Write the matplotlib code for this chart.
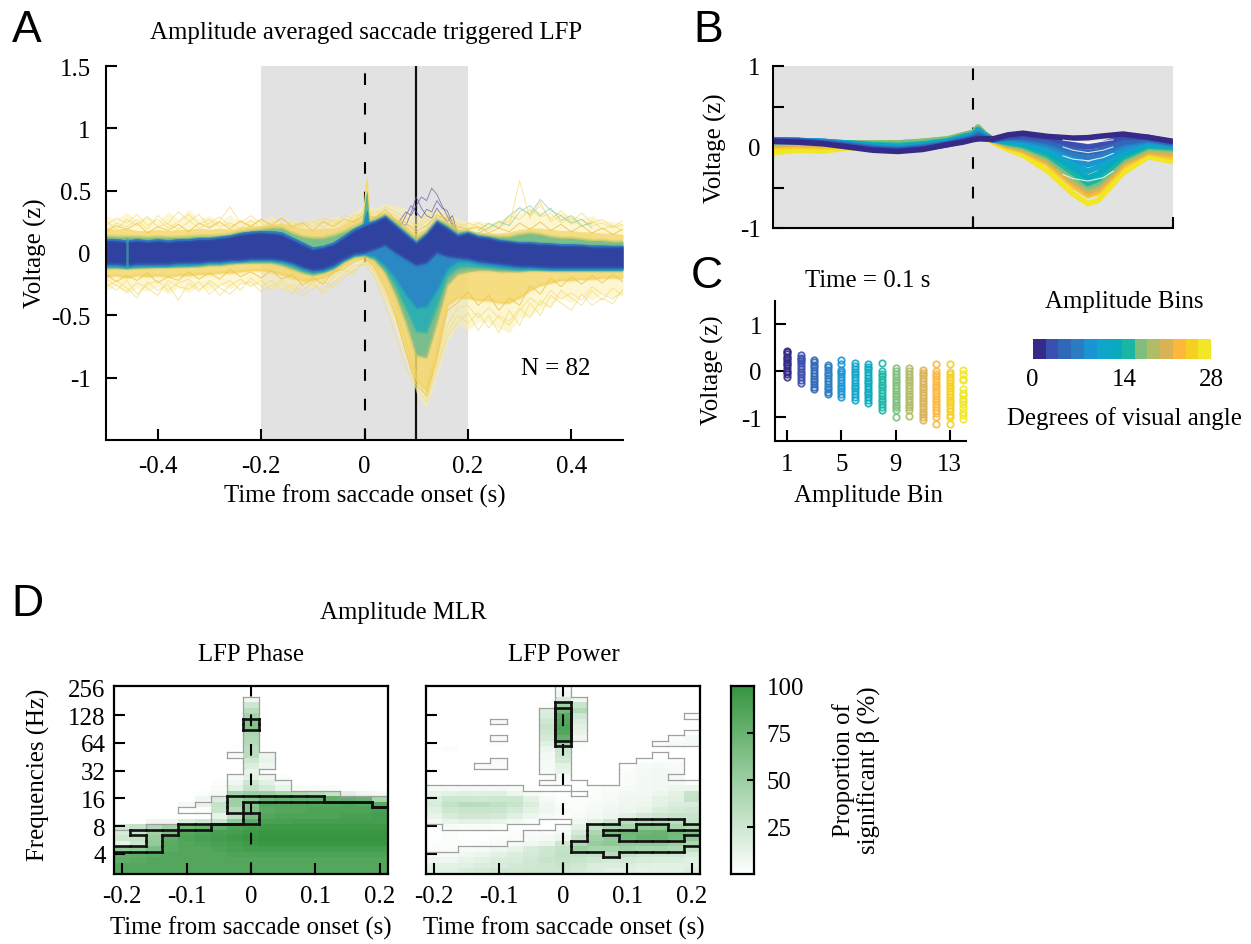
#!/usr/bin/env python3
"""Saccade triggered LFP figure: panels A-D, values read off the published picture."""

import matplotlib
matplotlib.use("Agg")
import matplotlib.pyplot as plt
import numpy as np
from matplotlib.collections import LineCollection
from matplotlib.colors import LinearSegmentedColormap

plt.rcParams["font.family"] = ["Liberation Serif", "DejaVu Serif"]
plt.rcParams["axes.unicode_minus"] = False

W, H = 1251, 945
FS = 17.9

BIN_COLORS = ["#352A87", "#3B4FB0", "#3068B8", "#2B7CC0", "#1A95D3", "#10A6C9", "#09A9BF",
              "#1BB5A5", "#7FBF7B", "#B2BC67", "#DAB256", "#FEB73B", "#F5CF22", "#F2E726"]

# ---------------------------------------------------------------------------
# Panel A: envelopes of the single traces, -0.5 to 0.5 s
# ---------------------------------------------------------------------------
T_A = [-.50, -.48, -.46, -.44, -.42, -.40, -.38, -.36, -.34, -.32, -.30, -.28, -.26, -.24, -.22, -.20, -.18,
       -.16, -.14, -.12, -.10, -.08, -.06, -.04, -.02, 0, .02, .04, .06, .08, .10, .12, .14, .16, .18, .20,
       .22, .24, .26, .28, .30, .32, .34, .36, .38, .40, .42, .44, .46, .48, .50]

DARK_U = [.10, .10, .09, .10, .09, .10, .09, .10, .10, .11, .11, .12, .13, .15, .16, .165, .16, .15, .11, .07, .03,
          .045, .07, .125, .18, .22, .25, .29, .22, .15, .08, .15, .25, .20, .14, .16, .13, .12, .10, .09, .08, .08,
          .07, .07, .06, .06, .06, .05, .05, .05, .05]
DARK_L = [-.09, -.09, -.10, -.09, -.09, -.09, -.09, -.08, -.08, -.08, -.07, -.07, -.06, -.06, -.05, -.05, -.05,
          -.06, -.08, -.115, -.14, -.13, -.10, -.05, -.01, 0, .03, .06, 0, -.05, -.10, -.08, 0, -.03, -.04, -.05,
          -.07, -.08, -.09, -.10, -.11, -.11, -.115, -.12, -.12, -.12, -.12, -.12, -.12, -.12, -.12]
BLUE_U = [.115, .115, .105, .115, .105, .115, .105, .115, .115, .125, .125, .135, .145, .165, .175, .18, .18, .17,
          .13, .09, .05, .06, .09, .145, .20, .24, .26, .30, .23, .16, .09, .16, .26, .21, .15, .17, .14, .13, .11,
          .10, .09, .09, .085, .08, .075, .075, .07, .065, .065, .06, .06]
BLUE_L = [-.105, -.105, -.115, -.105, -.105, -.105, -.105, -.095, -.095, -.09, -.08, -.08, -.07, -.07, -.06, -.06,
          -.06, -.07, -.095, -.13, -.155, -.145, -.115, -.06, -.02, -.01, -.03, -.10, -.20, -.33, -.44, -.43, -.30,
          -.13, -.07, -.07, -.09, -.10, -.11, -.12, -.125, -.125, -.13, -.135, -.135, -.135, -.135, -.135, -.135,
          -.135, -.135]
TEAL_L = [-.115, -.115, -.12, -.115, -.11, -.11, -.11, -.105, -.105, -.10, -.09, -.09, -.08, -.075, -.07, -.07, -.07,
          -.085, -.11, -.145, -.165, -.15, -.12, -.065, -.025, -.015, -.045, -.13, -.27, -.45, -.63, -.64, -.43, -.19,
          -.12, -.11, -.115, -.12, -.13, -.135, -.14, -.135, -.135, -.14, -.14, -.14, -.14, -.14, -.14, -.14, -.14]
GREEN_U = [.135, .13, .13, .13, .125, .13, .125, .125, .13, .135, .135, .14, .15, .17, .18, .19, .20, .20, .16, .13,
           .12, .12, .14, .17, .21, .25, .27, .31, .25, .18, .11, .17, .27, .23, .17, .18, .15, .14, .13, .13, .15,
           .16, .15, .13, .12, .12, .11, .10, .10, .09, .09]
GREEN_L = [-.125, -.12, -.125, -.12, -.12, -.115, -.115, -.115, -.11, -.11, -.10, -.10, -.09, -.08, -.08, -.08, -.08,
           -.10, -.13, -.16, -.18, -.16, -.13, -.07, -.03, -.02, -.06, -.16, -.34, -.56, -.82, -.84, -.56, -.26, -.17,
           -.15, -.14, -.14, -.15, -.15, -.15, -.14, -.14, -.14, -.14, -.14, -.14, -.14, -.14, -.14, -.14]
GOLD_U = [.20, .19, .20, .18, .18, .19, .18, .19, .19, .20, .19, .20, .19, .21, .22, .22, .23, .24, .22, .20, .19,
          .20, .20, .23, .27, .30, .30, .33, .28, .22, .16, .20, .28, .26, .20, .17, .17, .16, .16, .17, .19, .20,
          .20, .19, .18, .18, .17, .17, .16, .16, .15]
GOLD_L = [-.19, -.18, -.20, -.18, -.19, -.18, -.19, -.18, -.18, -.17, -.17, -.16, -.16, -.15, -.14, -.14, -.15, -.17,
          -.20, -.22, -.22, -.20, -.16, -.10, -.05, -.03, -.10, -.25, -.45, -.75, -1.03, -1.10, -.80, -.42, -.36, -.36,
          -.38, -.38, -.40, -.40, -.36, -.30, -.26, -.24, -.22, -.22, -.21, -.21, -.20, -.20, -.20]
PALE_U = [.30, .27, .33, .26, .30, .25, .33, .27, .35, .27, .30, .25, .31, .24, .28, .26, .30, .24, .27, .23, .28,
          .24, .30, .27, .34, .38, .36, .40, .38, .36, .30, .34, .36, .33, .28, .25, .26, .24, .26, .30, .32, .36,
          .34, .30, .32, .30, .28, .30, .26, .25, .24]
PALE_L = [-.30, -.26, -.33, -.28, -.31, -.27, -.33, -.28, -.32, -.26, -.30, -.25, -.29, -.24, -.26, -.25, -.28, -.28,
          -.30, -.26, -.28, -.25, -.22, -.18, -.12, -.08, -.18, -.38, -.60, -.85, -1.12, -1.24, -.98, -.72, -.58, -.62,
          -.55, -.56, -.60, -.64, -.52, -.50, -.45, -.42, -.35, -.40, -.34, -.38, -.32, -.36, -.33]

# a few traces standing out of the envelopes
WISP_UP_1 = [.22, .28, .24, .31, .22, .27, .20, .25, .31, .23, .27, .21, .24, .20, .26, .21, .24, .28, .22, .25, .21,
             .26, .22, .30, .27, .33, .29, .34, .30, .24, .19, .26, .31, .24, .20, .24, .21, .18, .23, .30, .27, .35,
             .29, .32, .24, .28, .21, .26, .19, .22, .18]
WISP_UP_2 = [.26, .19, .27, .22, .29, .21, .24, .33, .26, .20, .24, .29, .21, .25, .22, .27, .23, .20, .25, .21, .24,
             .28, .25, .22, .31, .29, .34, .30, .26, .20, .23, .21, .29, .27, .22, .19, .24, .20, .26, .22, .58, .28,
             .41, .25, .30, .23, .27, .22, .24, .20, .23]
WISP_UP_3 = [.18, .24, .21, .27, .19, .30, .23, .19, .25, .31, .21, .26, .37, .24, .30, .24, .19, .24, .19, .23, .26,
             .20, .27, .24, .26, .35, .31, .37, .33, .28, .22, .29, .34, .29, .24, .21, .19, .23, .20, .26, .37, .30,
             .38, .27, .34, .25, .32, .24, .27, .21, .26]
WISP_LO_1 = [-.24, -.30, -.22, -.33, -.25, -.22, -.30, -.24, -.21, -.29, -.24, -.34, -.26, -.21, -.27, -.22, -.29,
             -.24, -.33, -.22, -.26, -.30, -.19, -.14, -.16, -.06, -.16, -.34, -.52, -.78, -1.0, -1.16, -.90, -.64,
             -.50, -.56, -.48, -.60, -.50, -.55, -.44, -.52, -.38, -.44, -.30, -.36, -.42, -.30, -.38, -.28, -.34]
WISP_LO_2 = [-.21, -.26, -.31, -.24, -.28, -.34, -.22, -.27, -.29, -.23, -.33, -.26, -.22, -.30, -.20, -.27, -.22,
             -.30, -.25, -.31, -.23, -.33, -.24, -.17, -.10, -.09, -.20, -.41, -.66, -.92, -1.08, -1.20, -.94, -.68,
             -.56, -.48, -.62, -.50, -.64, -.46, -.58, -.40, -.50, -.34, -.40, -.46, -.33, -.42, -.36, -.41, -.29]
WISP_LO_3 = [-.27, -.22, -.28, -.36, -.23, -.30, -.25, -.38, -.24, -.31, -.22, -.28, -.33, -.25, -.23, -.31, -.26,
             -.22, -.28, -.34, -.29, -.22, -.27, -.20, -.13, -.07, -.14, -.30, -.48, -.70, -.96, -1.12, -.86, -.58,
             -.44, -.42, -.52, -.44, -.52, -.58, -.46, -.36, -.42, -.30, -.37, -.32, -.38, -.27, -.33, -.37, -.30]
GOLD_WISP_UP = [.17, .22, .19, .24, .16, .21, .18, .23, .17, .24, .20, .25, .19, .26, .21, .27, .22, .28, .21, .24, .18,
                .25, .21, .27, .25, .31, .28, .35, .27, .24, .17, .22, .30, .28, .21, .19, .21, .16, .20, .17, .24, .19,
                .25, .18, .23, .17, .22, .16, .20, .15, .19]
GOLD_WISP_LO = [-.17, -.23, -.18, -.22, -.16, -.24, -.19, -.22, -.15, -.21, -.16, -.21, -.13, -.19, -.15, -.20, -.14,
                -.21, -.17, -.26, -.20, -.25, -.15, -.13, -.07, -.04, -.12, -.28, -.50, -.80, -1.06, -1.14, -.84, -.46,
                -.40, -.31, -.42, -.34, -.46, -.36, -.42, -.26, -.33, -.20, -.27, -.19, -.25, -.18, -.24, -.17, -.23]

T_PURPLE = [.06, .07, .08, .09, .10, .11, .12, .13, .14, .15, .16, .17, .18]
PURPLE_1 = [.20, .27, .33, .30, .38, .45, .42, .52, .47, .38, .30, .22, .17]
PURPLE_2 = [.18, .22, .30, .38, .33, .28, .35, .33, .42, .36, .34, .24, .14]
PURPLE_3 = [.16, .24, .22, .32, .45, .36, .30, .28, .36, .30, .25, .30, .16]
T_TEAL = [.22, .24, .26, .28, .30, .32, .34, .36, .38, .40, .42, .44]
TEAL_1 = [.18, .24, .20, .30, .36, .31, .43, .34, .30, .24, .27, .20]
TEAL_2 = [.16, .20, .25, .22, .33, .38, .30, .36, .26, .30, .22, .24]

T_SPIKE = [-.006, -.002, .002, .005, .008, .012]
SPIKE_PALE = [.25, .40, .58, .62, .45, .25]
SPIKE_GREEN = [.22, .32, .46, .50, .32, .20]
SPIKE_BLUE = [.20, .25, .32, .35, .25, .18]
T_NOTCH = [-.46, -.46]
V_NOTCH = [-.11, .11]

A_YTICKS = [-1, -.5, 0, .5, 1, 1.5]
A_YLABELS = ["-1", "-0.5", "0", "0.5", "1", "1.5"]
A_XTICKS = [-.4, -.2, 0, .2, .4]
A_XLABELS = ["-0.4", "-0.2", "0", "0.2", "0.4"]

# ---------------------------------------------------------------------------
# Panel B: mean curve per amplitude bin
# ---------------------------------------------------------------------------
T_B = [-.2, -.175, -.15, -.125, -.1, -.075, -.05, -.025, -.01, 0, .005, .012, .02, .035, .05, .075, .1, .115, .125,
       .15, .175, .2]
B1 = [.07, .06, .04, 0, -.04, -.055, -.03, .03, .06, .09, .10, .10, .10, .15, .17, .13, .11, .115, .13, .16, .12, .07]
B2 = [.07, .07, .05, .01, -.03, -.045, -.02, .03, .07, .10, .12, .10, .09, .13, .14, .11, .03, 0, .02, .12, .12, .06]
B3 = [.08, .08, .05, .02, -.02, -.035, -.01, .04, .08, .11, .14, .11, .09, .12, .12, .07, -.03, -.07, -.05, .06, .10, .05]
B4 = [.08, .08, .06, .03, -.01, -.03, 0, .05, .09, .12, .16, .12, .09, .11, .10, .04, -.08, -.14, -.11, .03, .09, .04]
B5 = [.09, .08, .07, .04, 0, -.02, .01, .05, .10, .13, .18, .13, .09, .10, .08, .01, -.14, -.22, -.18, -.02, .07, .03]
B6 = [.09, .08, .07, .04, .01, -.01, .02, .06, .11, .14, .20, .14, .09, .08, .06, -.03, -.20, -.30, -.25, -.05, .05, .02]
B7 = [.08, .08, .07, .05, .02, 0, .03, .07, .12, .15, .21, .14, .09, .07, .04, -.06, -.26, -.38, -.33, -.09, .03, .01]
B8 = [.07, .07, .06, .05, .03, .02, .04, .08, .13, .16, .22, .15, .09, .05, .02, -.10, -.32, -.45, -.40, -.13, .01, -.01]
B9 = [.06, .06, .06, .05, .05, .05, .07, .10, .15, .18, .24, .16, .09, .04, 0, -.13, -.37, -.49, -.45, -.16, -.01, -.03]
B10 = [.05, .06, .05, .05, .05, .05, .07, .10, .15, .18, .25, .16, .09, .03, -.01, -.15, -.40, -.52, -.48, -.18, -.03, -.05]
B11 = [.03, .04, .03, .04, .04, .04, .05, .08, .13, .17, .24, .15, .09, .02, -.03, -.17, -.43, -.55, -.51, -.20, -.05, -.08]
B12 = [.02, .03, .02, .03, .02, .03, .04, .07, .12, .16, .22, .14, .08, .01, -.04, -.19, -.46, -.58, -.54, -.22, -.06, -.11]
B13 = [0, .01, 0, .01, .01, .01, .03, .06, .11, .15, .20, .13, .07, 0, -.05, -.21, -.48, -.60, -.56, -.24, -.07, -.13]
B14 = [-.07, -.04, -.05, -.01, -.02, -.01, .02, .05, .09, .13, .18, .12, .06, -.03, -.10, -.30, -.58, -.70, -.66, -.32, -.12, -.18]
B_CURVES = [B1, B2, B3, B4, B5, B6, B7, B8, B9, B10, B11, B12, B13, B14]

T_SLIT = [.09, .10, .115, .13, .14]
SLIT_1 = [.085, .07, .055, .07, .09]
SLIT_2 = [.0, -.04, -.07, -.04, .0]
SLIT_3 = [-.11, -.15, -.17, -.13, -.08]
SLIT_4 = [-.34, -.39, -.42, -.38, -.30]

# ---------------------------------------------------------------------------
# Panel C: single neuron voltage at 0.1 s
# ---------------------------------------------------------------------------
C1 = [.43, .40, .36, .30, .27, .24, .18, .15, .12, .06, 0, -.03, -.07, -.14]
C2 = [.33, .28, .26, .22, .16, .10, .04, -.02, -.08, -.14, -.20, -.27]
C3 = [.24, .19, .13, .07, .01, -.05, -.11, -.17, -.23, -.29, -.35, -.40]
C4 = [.13, .08, .02, -.04, -.10, -.16, -.22, -.28, -.34, -.40, -.46, -.50]
C5 = [.24, .14, .02, -.02, -.08, -.14, -.20, -.26, -.32, -.38, -.44, -.50, -.56]
C6 = [.17, .10, .04, -.02, -.08, -.14, -.20, -.26, -.32, -.38, -.44, -.50, -.56, -.62]
C7 = [.15, .09, .03, -.03, -.09, -.15, -.21, -.27, -.33, -.39, -.45, -.51, -.57, -.63, -.70]
C8 = [.17, 0, -.06, -.12, -.18, -.24, -.30, -.36, -.42, -.48, -.54, -.60, -.66, -.72, -.78, -.84]
C9 = [.05, -.01, -.07, -.13, -.19, -.25, -.31, -.37, -.43, -.49, -.55, -.61, -.67, -.73, -.79, -.85, -1.0]
C10 = [.05, -.01, -.07, -.13, -.19, -.25, -.31, -.37, -.43, -.49, -.55, -.61, -.67, -.73, -.79, -.85, -.98]
C11 = [.02, -.04, -.10, -.16, -.22, -.28, -.34, -.40, -.46, -.52, -.58, -.64, -.70, -.76, -.82, -.88, -.94, -1.0, -1.05]
C12 = [.15, 0, -.06, -.12, -.18, -.24, -.30, -.36, -.42, -.48, -.54, -.60, -.66, -.72, -.78, -.84, -.90, -1.0, -1.15]
C13 = [.14, -.02, -.08, -.14, -.20, -.26, -.32, -.38, -.44, -.50, -.56, -.62, -.68, -.74, -.80, -.86, -.95, -1.0, -1.15]
C14 = [.02, -.07, -.17, -.20, -.40, -.47, -.53, -.60, -.66, -.72, -.80, -.88, -.95, -1.03]
C_VALUES = [C1, C2, C3, C4, C5, C6, C7, C8, C9, C10, C11, C12, C13, C14]

# ---------------------------------------------------------------------------
# Panel D: proportion of significant beta, rows top (r33) to bottom (r0), 17 time columns
# ---------------------------------------------------------------------------
PHASE_HEAT = [
    [0, 0, 0, 0, 0, 0, 0, 0, 0, 0, 0, 0, 0, 0, 0, 0, 0],
    [0, 0, 0, 0, 0, 0, 0, 0, 0, 0, 0, 0, 0, 0, 0, 0, 0],
    [0, 0, 0, 0, 0, 0, 0, 0, 8, 0, 0, 0, 0, 0, 0, 0, 0],
    [0, 0, 0, 0, 0, 0, 0, 0, 25, 0, 0, 0, 0, 0, 0, 0, 0],
    [0, 0, 0, 0, 0, 0, 0, 0, 35, 0, 0, 0, 0, 0, 0, 0, 0],
    [0, 0, 0, 0, 0, 0, 0, 0, 45, 0, 0, 0, 0, 0, 0, 0, 0],
    [0, 0, 0, 0, 0, 0, 0, 0, 60, 0, 0, 0, 0, 0, 0, 0, 0],
    [0, 0, 0, 0, 0, 0, 0, 0, 62, 0, 0, 0, 0, 0, 0, 0, 0],
    [0, 0, 0, 0, 0, 0, 0, 0, 42, 0, 0, 0, 0, 0, 0, 0, 0],
    [0, 0, 0, 0, 0, 0, 0, 0, 40, 1, 0, 0, 0, 0, 0, 0, 0],
    [0, 0, 0, 0, 0, 0, 0, 1, 38, 1, 0, 0, 0, 0, 0, 0, 0],
    [0, 0, 0, 0, 0, 0, 0, 1, 34, 0, 0, 0, 0, 0, 0, 0, 0],
    [0, 0, 0, 0, 0, 0, 0, 5, 35, 10, 0, 0, 0, 0, 0, 0, 0],
    [0, 0, 0, 0, 0, 0, 0, 1, 25, 12, 0, 0, 0, 0, 0, 0, 0],
    [0, 0, 0, 0, 0, 0, 0, 0, 18, 8, 0, 0, 0, 0, 0, 0, 0],
    [0, 0, 0, 0, 0, 0, 0, 0, 12, 2, 0, 0, 0, 0, 0, 0, 0],
    [0, 0, 0, 0, 0, 0, 0, 5, 14, 8, 2, 0, 0, 0, 0, 0, 0],
    [0, 0, 0, 0, 0, 0, 2, 8, 25, 15, 7, 0, 0, 0, 0, 0, 0],
    [0, 0, 0, 0, 0, 0, 3, 15, 30, 22, 12, 3, 3, 3, 1, 0, 0],
    [0, 0, 0, 0, 0, 2, 6, 45, 50, 50, 45, 42, 38, 30, 15, 8, 6],
    [0, 0, 0, 0, 0, 8, 18, 50, 58, 72, 75, 75, 75, 78, 78, 75, 45],
    [0, 0, 0, 0, 6, 12, 30, 48, 60, 85, 85, 85, 85, 85, 88, 85, 82],
    [0, 0, 0, 0, 0, 2, 28, 38, 62, 82, 85, 85, 88, 88, 88, 88, 90],
    [0, 0, 0, 0, 0, 1, 12, 32, 65, 85, 88, 88, 88, 88, 90, 90, 92],
    [0, 0, 8, 8, 18, 25, 28, 55, 80, 90, 90, 92, 92, 92, 92, 92, 92],
    [25, 30, 40, 48, 72, 75, 80, 88, 92, 95, 95, 95, 95, 95, 95, 95, 95],
    [20, 28, 48, 62, 85, 88, 90, 92, 95, 98, 98, 98, 98, 98, 98, 98, 98],
    [25, 30, 52, 80, 88, 90, 92, 95, 98, 100, 100, 100, 100, 100, 100, 100, 100],
    [12, 25, 55, 82, 85, 88, 90, 92, 95, 98, 98, 98, 98, 98, 98, 98, 98],
    [55, 55, 65, 82, 85, 85, 88, 90, 92, 92, 92, 92, 92, 92, 92, 92, 92],
    [78, 80, 82, 85, 85, 85, 85, 88, 88, 88, 88, 88, 88, 88, 88, 88, 88],
    [80, 82, 85, 85, 85, 85, 85, 85, 85, 85, 85, 85, 85, 85, 85, 85, 85],
    [85, 85, 85, 85, 85, 85, 85, 85, 85, 85, 85, 85, 85, 85, 85, 85, 85],
    [85, 85, 85, 85, 85, 85, 85, 85, 85, 85, 85, 85, 85, 85, 85, 85, 85],
]
POWER_HEAT = [
    [0, 0, 0, 0, 0, 0, 0, 0, 4, 0, 0, 0, 0, 0, 0, 0, 0],
    [0, 0, 0, 0, 0, 0, 0, 0, 8, 0, 0, 0, 0, 0, 0, 0, 0],
    [0, 0, 0, 0, 0, 0, 0, 0, 22, 8, 0, 0, 0, 0, 0, 0, 0],
    [0, 0, 0, 0, 0, 0, 0, 2, 48, 28, 0, 0, 0, 0, 0, 0, 0],
    [0, 0, 0, 0, 0, 0, 0, 18, 70, 38, 0, 0, 0, 0, 0, 0, 0],
    [0, 0, 0, 0, 0, 0, 0, 20, 82, 24, 0, 0, 0, 0, 0, 0, 2],
    [0, 0, 0, 1, 4, 0, 0, 25, 85, 18, 0, 0, 0, 0, 0, 0, 0],
    [0, 0, 0, 0, 0, 0, 0, 28, 88, 15, 0, 0, 0, 0, 0, 0, 0],
    [0, 0, 0, 0, 0, 0, 0, 26, 85, 12, 0, 0, 0, 0, 0, 0, 0],
    [0, 0, 0, 0, 4, 0, 0, 22, 78, 8, 0, 0, 0, 0, 1, 3, 6],
    [0, 0, 0, 1, 2, 0, 0, 16, 50, 2, 0, 0, 0, 0, 3, 5, 5],
    [1, 2, 0, 0, 0, 0, 0, 10, 28, 1, 0, 0, 0, 0, 0, 0, 0],
    [0, 0, 0, 0, 0, 0, 0, 7, 26, 0, 0, 0, 0, 0, 0, 0, 0],
    [0, 0, 0, 0, 4, 0, 0, 6, 22, 0, 0, 0, 0, 1, 2, 2, 0],
    [0, 0, 0, 3, 3, 0, 0, 5, 14, 0, 0, 0, 1, 4, 5, 4, 0],
    [0, 0, 0, 0, 0, 0, 0, 4, 12, 0, 0, 0, 3, 6, 7, 5, 0],
    [0, 0, 0, 0, 0, 0, 0, 2, 5, 0, 0, 0, 3, 6, 7, 5, 0],
    [0, 0, 0, 0, 0, 0, 0, 3, 3, 1, 0, 0, 3, 6, 7, 6, 2],
    [5, 5, 5, 5, 5, 3, 1, 1, 1, 1, 2, 3, 4, 6, 7, 10, 10],
    [12, 14, 16, 16, 16, 10, 5, 2, 1, 1, 2, 4, 6, 7, 10, 14, 28],
    [18, 26, 25, 24, 25, 26, 14, 5, 2, 2, 3, 5, 8, 8, 13, 16, 30],
    [20, 30, 36, 36, 32, 28, 18, 8, 3, 2, 4, 6, 8, 10, 14, 18, 20],
    [16, 26, 28, 28, 27, 22, 14, 8, 4, 3, 5, 8, 10, 12, 18, 22, 24],
    [12, 20, 24, 24, 22, 16, 9, 5, 3, 4, 7, 10, 16, 22, 26, 28, 28],
    [7, 12, 14, 14, 12, 7, 3, 1, 1, 8, 15, 25, 36, 38, 38, 36, 30],
    [2, 4, 3, 3, 2, 1, 1, 1, 3, 14, 30, 42, 45, 55, 55, 45, 40],
    [1, 2, 1, 1, 1, 2, 3, 3, 6, 22, 42, 65, 72, 72, 74, 70, 62],
    [1, 2, 1, 1, 2, 3, 4, 6, 10, 30, 48, 55, 70, 75, 75, 68, 55],
    [2, 2, 2, 3, 4, 5, 8, 12, 25, 40, 52, 56, 55, 55, 55, 50, 42],
    [3, 3, 4, 5, 8, 12, 20, 25, 30, 50, 45, 45, 48, 45, 45, 42, 32],
    [4, 5, 8, 10, 14, 18, 22, 26, 32, 32, 30, 36, 30, 25, 24, 24, 20],
    [8, 8, 12, 14, 18, 20, 24, 28, 30, 28, 24, 22, 22, 20, 18, 18, 16],
    [14, 14, 16, 18, 20, 22, 24, 26, 28, 24, 18, 18, 18, 16, 14, 14, 16],
    [16, 16, 20, 22, 24, 24, 26, 26, 26, 22, 18, 16, 16, 14, 14, 14, 18],
]

# significance regions, per time column: (first row, last row + 1), r0 at the bottom
PHASE_THIN = [[(0, 8)], [(0, 8)], [(0, 9)], [(0, 9)], [(0, 9), (11, 12)], [(0, 9), (11, 13)], [(0, 14)],
              [(0, 18), (21, 22)], [(0, 32)], [(0, 18), (19, 22)], [(0, 17)], [(0, 15)], [(0, 15)], [(0, 15)],
              [(0, 14)], [(0, 14)], [(0, 14)]]
PHASE_THICK_1 = [[(0, 4)], [(0, 4)], [(0, 4)], [(0, 7)], [(0, 8)], [(0, 8)], [(0, 9)], [(0, 9)], [(0, 13)],
                 [(0, 13)], [(0, 13)], [(0, 13)], [(0, 13)], [(0, 13)], [(0, 13)], [(0, 13)], [(0, 12)]]
PHASE_THICK_2 = [[(0, 5)], [(0, 5), (7, 8)], [(0, 8)], [(0, 8)], [(0, 9)], [(0, 9)], [(0, 9)], [(0, 9), (11, 14)],
                 [(0, 9), (11, 14), (26, 28)], [(0, 14)], [(0, 14)], [(0, 14)], [(0, 14)], [(0, 13)], [(0, 13)],
                 [(0, 13)], [(0, 12)]]
POWER_THIN = [[(0, 4), (9, 16)], [(0, 4), (8, 16)], [(0, 5), (8, 16)], [(0, 5), (8, 16), (19, 20)],
              [(0, 5), (8, 16), (19, 21), (24, 25), (27, 28)], [(0, 6), (9, 16)], [(0, 8), (9, 15)],
              [(0, 8), (10, 15), (16, 17), (18, 30)], [(0, 9), (10, 15), (16, 34)], [(0, 14), (15, 17), (24, 32)],
              [(0, 16)], [(0, 16)], [(0, 20)], [(0, 21)], [(0, 22), (23, 24)], [(0, 17), (18, 21), (23, 25)],
              [(0, 17), (23, 26), (28, 29)]]
POWER_THICK_1 = [[], [], [], [], [], [], [], [], [(23, 31)], [(4, 6)], [(4, 9)], [(3, 9)], [(4, 10)], [(4, 10)],
                 [(4, 10)], [(4, 10)], [(5, 9)]]
POWER_THICK_2 = [[], [], [], [], [], [], [], [], [(24, 30)], [], [], [(7, 8)], [(6, 8)], [(6, 9)], [(6, 9)],
                 [(6, 8)], [(7, 8)]]

D_XTICKS = [-.2, -.1, 0, .1, .2]
D_XLABELS = ["-0.2", "-0.1", "0", "0.1", "0.2"]
FREQ_TICKS = [4, 8, 16, 32, 64, 128, 256]
CB_TICKS = [25, 50, 75, 100]


def px_axes(left, top, right, bottom):
    return fig.add_axes([left / W, 1 - bottom / H, (right - left) / W, (bottom - top) / H])


def label(x, y, s, **kw):
    kw.setdefault("fontsize", FS)
    kw.setdefault("ha", "center")
    kw.setdefault("va", "center")
    fig.text(x / W, 1 - y / H, s, **kw)


def panel_letter(x, y, s):
    label(x, y, s, fontsize=32, family=["Liberation Sans", "DejaVu Sans"])


def dashed_zero(ax, **kw):
    ax.axvline(0, color="black", linewidth=1.5, linestyle=(0, (5.6, 8.6)), **kw)


def soft_edge(ax, trace, color, zorder):
    """Stacked translucent strokes along a band edge, to take away the hard border."""
    for lw, alpha in [(3.2, .18), (1.8, .28), (.7, .45)]:
        ax.plot(T_A, trace, color=color, linewidth=lw, alpha=alpha, zorder=zorder)


def span_mask(spans):
    mask = np.zeros((34, 17), dtype=bool)
    for col, parts in enumerate(spans):
        for start, stop in parts:
            mask[start:stop, col] = True
    return mask


def draw_outline(ax, spans, xe, ye, **kw):
    """Outline a cell mask along the cell edges of the heat map."""
    mask = span_mask(spans)
    segs = []
    for r in range(34):
        for c in range(17):
            if c < 16 and mask[r, c] != mask[r, c + 1]:
                segs.append([(xe[c + 1], ye[r]), (xe[c + 1], ye[r + 1])])
            if r < 33 and mask[r, c] != mask[r + 1, c]:
                segs.append([(xe[c], ye[r + 1]), (xe[c + 1], ye[r + 1])])
    ax.add_collection(LineCollection(segs, capstyle="projecting", **kw))


fig = plt.figure(figsize=(W / 100, H / 100), dpi=100, facecolor="white")

# ---------------------------------------------------------------------------
# A
# ---------------------------------------------------------------------------
ax_a = px_axes(106, 67, 623, 441)
ax_a.set_xlim(-.5, .5)
ax_a.set_ylim(-1.5, 1.5)
ax_a.axvspan(-.2, .2, color="#E2E2E2", linewidth=0, zorder=0)
dashed_zero(ax_a, zorder=1)
ax_a.axvline(.1, color="#111111", linewidth=1.6, zorder=1)

ax_a.fill_between(T_A, PALE_L, PALE_U, color="#FBEFB0", alpha=.55, linewidth=0, zorder=2)
for trace in [WISP_UP_1, WISP_UP_2, WISP_UP_3, WISP_LO_1, WISP_LO_2, WISP_LO_3]:
    ax_a.plot(T_A, trace, color="#F5DC70", linewidth=.6, alpha=.8, zorder=2.2)
ax_a.fill_between(T_A, GOLD_L, GOLD_U, color="#F4D25C", alpha=.68, linewidth=0, zorder=3)
for trace in [GOLD_WISP_UP, GOLD_WISP_LO]:
    ax_a.plot(T_A, trace, color="#F0C84A", linewidth=.7, alpha=.9, zorder=3.2)
ax_a.fill_between(T_A, GREEN_L, GREEN_U, color="#79BE8C", linewidth=0, zorder=4)
ax_a.fill_between(T_A, TEAL_L, BLUE_U, color="#2FAFB0", linewidth=0, zorder=4.5)
ax_a.fill_between(T_A, BLUE_L, BLUE_U, color="#2A88C4", linewidth=0, zorder=5)
ax_a.fill_between(T_A, DARK_L, DARK_U, color="#2F429F", linewidth=0, zorder=6)
soft_edge(ax_a, GOLD_L, "#F4D25C", 3.1)
soft_edge(ax_a, GREEN_L, "#C9C86A", 4.1)
soft_edge(ax_a, GREEN_U, "#A6C470", 4.1)
soft_edge(ax_a, TEAL_L, "#57B79A", 4.6)
soft_edge(ax_a, BLUE_L, "#22A2BC", 5.1)
soft_edge(ax_a, DARK_U, "#3468B8", 6.1)
soft_edge(ax_a, DARK_L, "#3468B8", 6.1)
ax_a.fill_between(T_SPIKE, DARK_U[25], SPIKE_PALE, color="#F3DC70", linewidth=0, zorder=3)
ax_a.fill_between(T_SPIKE, DARK_U[25], SPIKE_GREEN, color="#5FB58C", linewidth=0, zorder=4)
ax_a.fill_between(T_SPIKE, DARK_U[25], SPIKE_BLUE, color="#1C8FC4", linewidth=0, zorder=5)
ax_a.plot(T_NOTCH, V_NOTCH, color="#3FA3A8", linewidth=1.8, alpha=.7, zorder=7)
for trace in [PURPLE_1, PURPLE_2, PURPLE_3]:
    ax_a.plot(T_PURPLE, trace, color="#5B58A8", linewidth=.6, alpha=.75, zorder=2.4)
for trace in [TEAL_1, TEAL_2]:
    ax_a.plot(T_TEAL, trace, color="#8CCDB0", linewidth=.6, alpha=.8, zorder=2.4)

ax_a.set_yticks(A_YTICKS, A_YLABELS, fontsize=FS)
ax_a.set_xticks(A_XTICKS, A_XLABELS, fontsize=FS)
ax_a.tick_params(direction="in", length=8, width=1.5)
ax_a.tick_params(axis="y", pad=11)
ax_a.tick_params(axis="x", pad=11)
for side in ["top", "right"]:
    ax_a.spines[side].set_visible(False)
for side in ["left", "bottom"]:
    ax_a.spines[side].set_linewidth(1.5)
    ax_a.spines[side].set_zorder(8)

panel_letter(27, 31, "A")
label(366, 33, "Amplitude averaged saccade triggered LFP")
label(35, 253, "Voltage (z)", rotation=90)
label(365, 496, "Time from saccade onset (s)")
label(556, 369, "N = 82")

# ---------------------------------------------------------------------------
# B
# ---------------------------------------------------------------------------
ax_b = px_axes(773, 67, 1173, 229)
ax_b.set_xlim(-.2, .2)
ax_b.set_ylim(-1, 1)
ax_b.set_facecolor("#E2E2E2")
dashed_zero(ax_b, zorder=1)
for curve, color in reversed(list(zip(B_CURVES, BIN_COLORS))):
    ax_b.plot(T_B, curve, color=color, linewidth=4, solid_capstyle="butt", zorder=2)
for slit in [SLIT_1, SLIT_2, SLIT_3, SLIT_4]:
    ax_b.plot(T_SLIT, slit, color="white", linewidth=.8, alpha=.8, zorder=3)
ax_b.set_yticks([-1, -.5, 0, .5, 1], ["-1", "", "0", "", "1"], fontsize=FS)
ax_b.set_xticks([0, .2], [])
ax_b.tick_params(direction="in", length=8, width=1.5, pad=9)
for side in ["top", "right"]:
    ax_b.spines[side].set_visible(False)
for side in ["left", "bottom"]:
    ax_b.spines[side].set_linewidth(1.5)

panel_letter(708, 31, "B")
label(715, 148, "Voltage (z)", rotation=90)

# ---------------------------------------------------------------------------
# C
# ---------------------------------------------------------------------------
ax_c = px_axes(774.5, 302, 966, 441.5)
ax_c.set_xlim(.06, 14.2)
ax_c.set_ylim(-1.5, 1.5)
for i, (vals, color) in enumerate(zip(C_VALUES, BIN_COLORS), start=1):
    ax_c.plot([i] * len(vals), vals, "o", mfc="none", mec=color, mew=1.3, ms=4.6, alpha=.9, clip_on=False)
ax_c.set_yticks([-1, 0, 1], ["-1", "0", "1"], fontsize=FS)
ax_c.set_xticks([1, 5, 9, 13], ["1", "5", "9", "13"], fontsize=FS)
ax_c.tick_params(direction="in", length=8, width=1.5, pad=9)
for side in ["top", "right"]:
    ax_c.spines[side].set_visible(False)
for side in ["left", "bottom"]:
    ax_c.spines[side].set_linewidth(1.5)

panel_letter(707, 276, "C")
label(868, 281, "Time = 0.1 s")
label(712, 370, "Voltage (z)", rotation=90)
label(868, 496, "Amplitude Bin")

# discrete amplitude key
ax_key = px_axes(1033, 340, 1211, 360)
ax_key.pcolormesh(np.array([np.arange(15) * 2.0] * 2), np.array([[0] * 15, [1] * 15]),
                  np.arange(14).reshape(1, 14),
                  cmap=matplotlib.colors.ListedColormap(BIN_COLORS), linewidth=0)
ax_key.set_axis_off()
label(1124, 302, "Amplitude Bins")
label(1032, 380, "0")
label(1124, 380, "14")
label(1211, 380, "28")
label(1124, 419, "Degrees of visual angle")

# ---------------------------------------------------------------------------
# D
# ---------------------------------------------------------------------------
greens = LinearSegmentedColormap.from_list("sig", ["#FFFFFF", "#9CCFA2", "#35953F"])
x_edges = [-.2125 + .025 * i for i in range(18)]
y_edges = [2 ** (1.27 + .2 * i) for i in range(35)]

for left, right, heat, thin, thick1, thick2 in [
        (114, 388, PHASE_HEAT, PHASE_THIN, PHASE_THICK_1, PHASE_THICK_2),
        (426, 700, POWER_HEAT, POWER_THIN, POWER_THICK_1, POWER_THICK_2)]:
    ax = px_axes(left, 686.5, right, 875)
    ax.pcolormesh(x_edges, y_edges, np.array(heat)[::-1], cmap=greens, vmin=0, vmax=100, linewidth=0, zorder=1)
    ax.set_yscale("log", base=2)
    ax.set_xlim(x_edges[0], x_edges[-1])
    ax.set_ylim(y_edges[0], y_edges[-1])
    dashed_zero(ax, zorder=2)
    draw_outline(ax, thin, x_edges, y_edges, colors="#A0A0A0", linewidths=.9, zorder=3)
    draw_outline(ax, thick1, x_edges, y_edges, colors="#111111", linewidths=1.9, zorder=4)
    draw_outline(ax, thick2, x_edges, y_edges, colors="#111111", linewidths=1.9, zorder=4)
    ax.set_xticks(D_XTICKS, D_XLABELS, fontsize=FS)
    ax.set_yticks(FREQ_TICKS, [str(f) for f in FREQ_TICKS] if left == 114 else [], fontsize=FS)
    ax.minorticks_off()
    ax.tick_params(direction="in", length=8, width=1.5)
    ax.tick_params(axis="x", pad=8)
    ax.tick_params(axis="y", pad=6)
    ax.yaxis.get_major_ticks()[-1].tick1line.set_visible(False)
    for spine in ax.spines.values():
        spine.set_linewidth(1.6)
        spine.set_zorder(6)

panel_letter(27, 604, "D")
label(403, 613, "Amplitude MLR")
label(251, 655, "LFP Phase")
label(564, 655, "LFP Power")
label(38, 775, "Frequencies (Hz)", rotation=90)
label(251, 928, "Time from saccade onset (s)")
label(564, 928, "Time from saccade onset (s)")

ax_cb = px_axes(731, 686.5, 754, 875)
ax_cb.imshow(np.linspace(100, 0, 256).reshape(-1, 1), cmap=greens, vmin=0, vmax=100, aspect="auto",
             extent=[0, 1, 0, 100])
ax_cb.set_xticks([])
ax_cb.yaxis.tick_right()
ax_cb.set_yticks(CB_TICKS, [str(t) for t in CB_TICKS], fontsize=FS)
ax_cb.tick_params(direction="in", length=5, width=1.5, pad=9)
ax_cb.yaxis.get_major_ticks()[-1].tick2line.set_visible(False)
for spine in ax_cb.spines.values():
    spine.set_linewidth(1.6)
label(856, 770, "Proportion of\nsignificant \u03b2 (%)", rotation=90, linespacing=1.05)

fig.savefig("out.png", dpi=100, facecolor="white")
